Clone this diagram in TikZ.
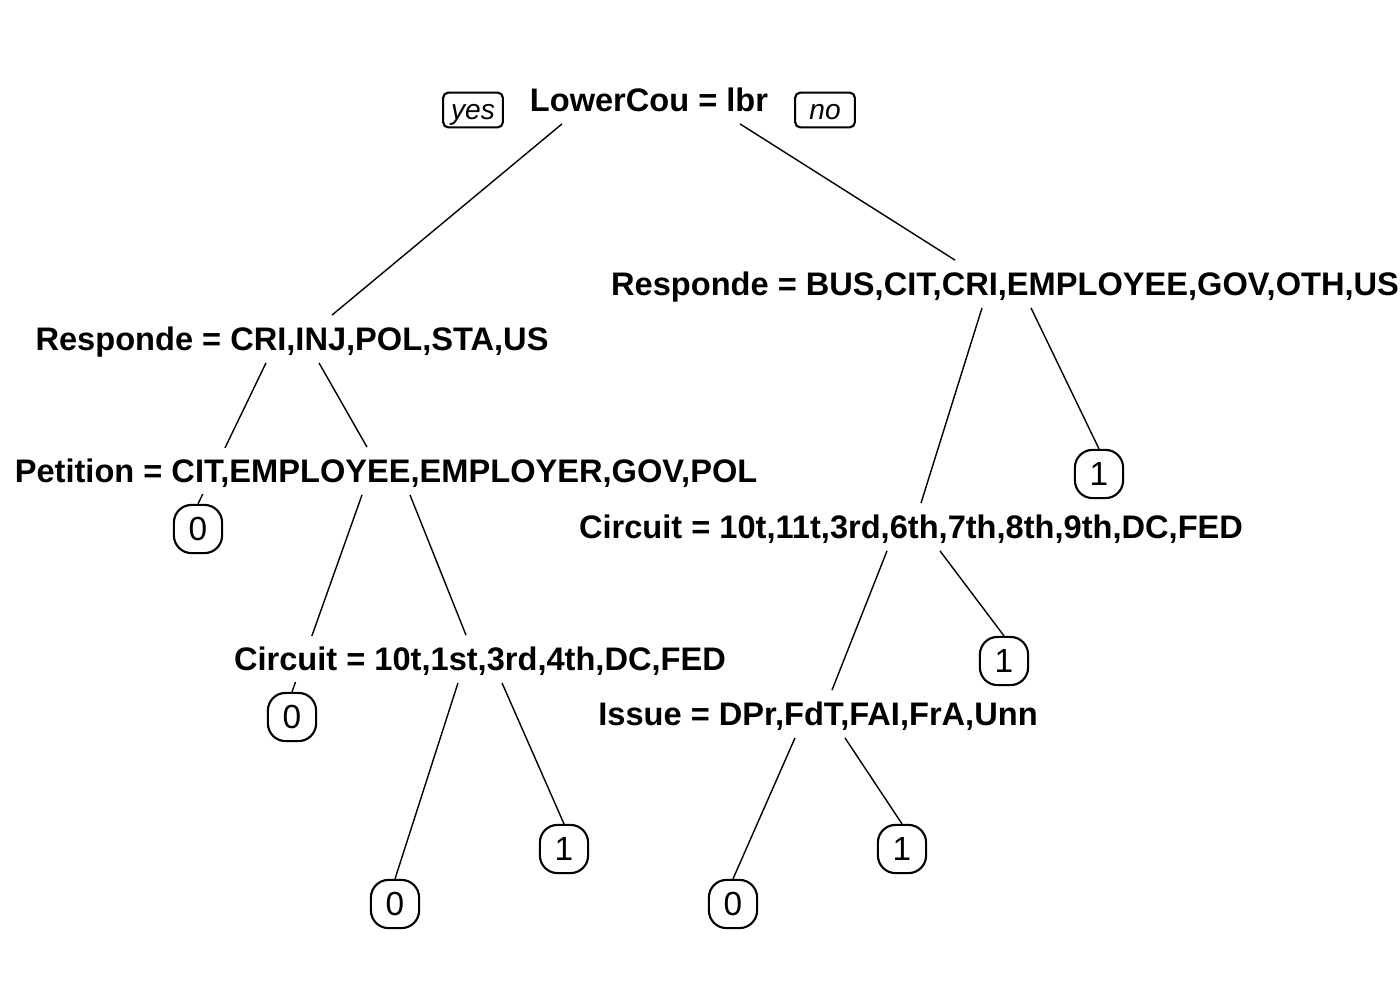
\documentclass[tikz,border=0pt]{standalone}
\usepackage{fontspec}
\setmainfont{Liberation Sans}
\usetikzlibrary{calc}
\usetikzlibrary{backgrounds}
\tikzset{
  splitlabel/.style={fill=white, inner xsep=1pt, inner ysep=1.5pt, text height=8.3pt, text depth=1.7pt, font=\fontsize{9.27}{11}\selectfont\bfseries},
  leafbox/.style={draw, fill=white, rounded corners=5pt, minimum width=13.7pt, minimum height=13.7pt, inner sep=0pt, font=\fontsize{9.5}{11}\selectfont},
  yesno/.style={draw, rounded corners=1.5pt, minimum width=17pt, minimum height=9.9pt, inner sep=0pt, text height=5.4pt, text depth=0pt, font=\fontsize{8}{9}\selectfont\itshape}
}
\newcommand{\branch}[4]{\draw ($(#1.south)+(#2,0)$) -- ($(#3.north)+(#4,0)$);}

\begin{document}
\begin{tikzpicture}[x=0.01cm, y=-0.01cm, line width=0.6pt]
\useasboundingbox (0,0) rectangle (1400,1000);
% split labels
\node[splitlabel] (root) at (649,100) {LowerCou = lbr};
\node[yesno] (yes) at (473,110) {yes};
\node[yesno] (no) at (825,110) {no};
\node[splitlabel] (respL) at (292,339) {Responde = CRI,INJ,POL,STA,US};
\node[splitlabel] (respR) at (1005,284) {Responde = BUS,CIT,CRI,EMPLOYEE,GOV,OTH,US};
\node[splitlabel] (petit) at (386,471) {Petition = CIT,EMPLOYEE,EMPLOYER,GOV,POL};
\node[splitlabel] (circL) at (480,659) {Circuit = 10t,1st,3rd,4th,DC,FED};
\node[splitlabel] (circR) at (911,527) {Circuit = 10t,11t,3rd,6th,7th,8th,9th,DC,FED};
\node[splitlabel] (issue) at (818,714) {Issue = DPr,FdT,FAI,FrA,Unn};
% leaves
\node[leafbox] (lfA) at (198,529) {0};
\node[leafbox] (lfB) at (292,717) {0};
\node[leafbox] (lfC) at (395,904) {0};
\node[leafbox] (lfD) at (564,849) {1};
\node[leafbox] (lfE) at (1099,474) {1};
\node[leafbox] (lfF) at (1004,661) {1};
\node[leafbox] (lfG) at (733,904) {0};
\node[leafbox] (lfH) at (902,849) {1};
% branches, behind the labels
\begin{scope}[on background layer]
\fill[white] (0,0) rectangle (1400,1000);
\branch{root}{-87}{respL}{40}
\branch{root}{91}{respR}{-50}
\branch{respL}{-26}{lfA}{0}
\branch{respL}{27}{petit}{-19}
\branch{petit}{-24}{lfB}{0}
\branch{petit}{24}{circL}{-14}
\branch{circL}{-22}{lfC}{0}
\branch{circL}{22}{lfD}{0}
\branch{respR}{-23}{circR}{10}
\branch{respR}{26}{lfE}{0}
\branch{circR}{-24}{issue}{14}
\branch{circR}{29}{lfF}{0}
\branch{issue}{-23}{lfG}{0}
\branch{issue}{27}{lfH}{0}
\end{scope}
\end{tikzpicture}
\end{document}
